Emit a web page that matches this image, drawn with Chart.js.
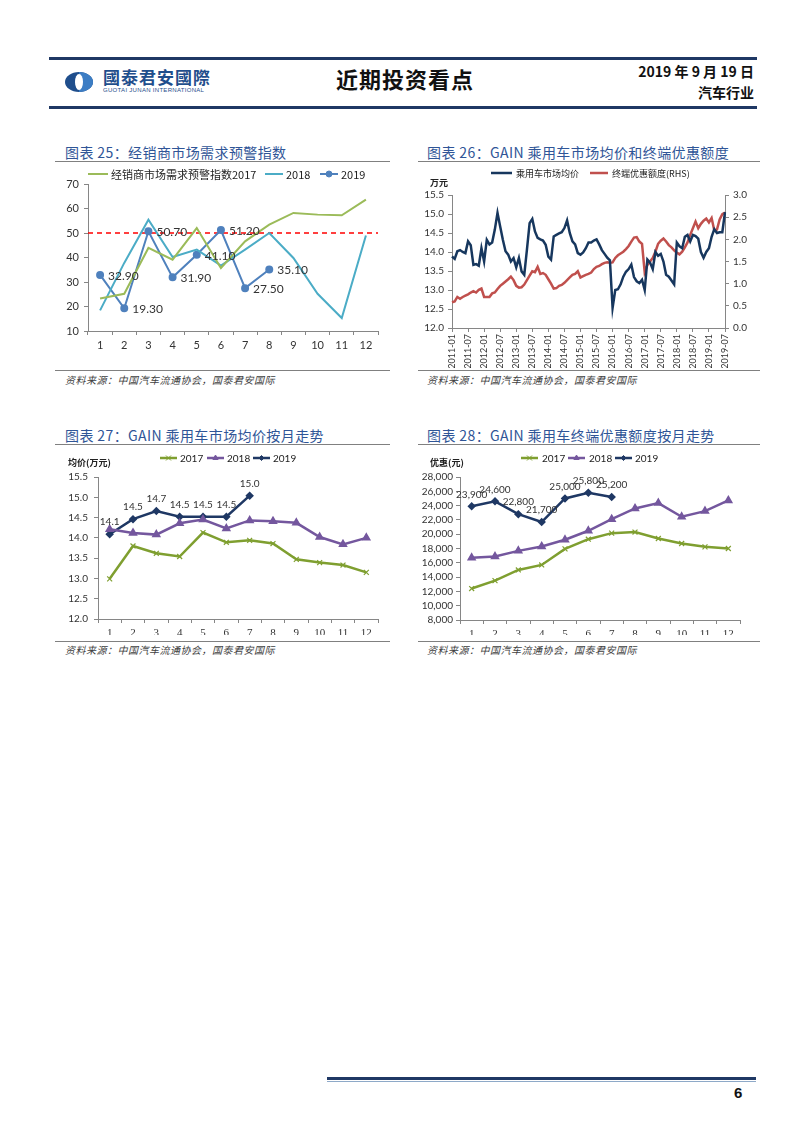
<!DOCTYPE html>
<html>
<head>
<meta charset="utf-8">
<script src="https://cdn.jsdelivr.net/npm/chart.js@4.4.0/dist/chart.umd.min.js"></script>
<style>
body{margin:0;background:#fff;width:802px;height:1133px;position:relative;overflow:hidden;font-family:"Noto Sans CJK SC",sans-serif}
.bar{position:absolute;height:3px;background:#1F3864}
.ttl{position:absolute;font-size:14px;color:#2F5597;letter-spacing:0.4px;white-space:nowrap;line-height:1;font-weight:400}
.rule{position:absolute;height:1px;background:#808080}
.src{position:absolute;font-size:10px;font-style:italic;color:#404040;white-space:nowrap;line-height:1;letter-spacing:0.5px}
.unit{position:absolute;font-size:9px;font-weight:bold;color:#222;white-space:nowrap;line-height:1}
canvas{position:absolute}
</style>
</head>
<body>

<!-- header -->
<div class="bar" style="left:49px;top:57px;width:708px"></div>
<svg style="position:absolute;left:64px;top:71px" width="32" height="22">
  <ellipse cx="15" cy="11" rx="14" ry="10" fill="#1F4E8C"/>
  <path d="M15 1 A14 10 0 0 1 15 21 Z" fill="#3C7DC4"/>
  <ellipse cx="15" cy="11" rx="4" ry="8" fill="#fff"/>
</svg>
<div style="position:absolute;left:103px;top:68px;font-size:17px;font-weight:bold;color:#1F4E8C;letter-spacing:1px;line-height:1">國泰君安國際</div>
<div style="position:absolute;left:103px;top:87px;font-size:6px;color:#1F4E8C;font-family:'Liberation Sans';line-height:1;letter-spacing:0.3px">GUOTAI JUNAN INTERNATIONAL</div>
<div style="position:absolute;left:336px;top:67px;font-size:22px;font-weight:bold;color:#111;letter-spacing:1px;line-height:1">近期投资看点</div>
<div style="position:absolute;right:48px;top:64px;font-size:14px;font-weight:bold;color:#111;line-height:1">2019 年 9 月 19 日</div>
<div style="position:absolute;right:48px;top:85px;font-size:14px;font-weight:bold;color:#111;line-height:1">汽车行业</div>
<div class="bar" style="left:49px;top:106px;width:708px"></div>

<!-- chart titles -->
<div class="ttl" style="left:65px;top:145px">图表 25：经销商市场需求预警指数</div>
<div class="rule" style="left:55px;top:161px;width:335px"></div>
<div class="ttl" style="left:427px;top:145px">图表 26：GAIN 乘用车市场均价和终端优惠额度</div>
<div class="rule" style="left:418px;top:161px;width:342px"></div>

<canvas id="c25" width="335" height="195" style="left:55px;top:163px"></canvas>
<canvas id="c26" width="345" height="205" style="left:418px;top:163px"></canvas>
<div class="unit" style="left:430px;top:178px">万元</div>

<div class="rule" style="left:55px;top:370px;width:335px"></div>
<div class="src" style="left:65px;top:375px">资料来源：中国汽车流通协会，国泰君安国际</div>
<div class="rule" style="left:418px;top:370px;width:342px"></div>
<div class="src" style="left:427px;top:375px">资料来源：中国汽车流通协会，国泰君安国际</div>

<div class="ttl" style="left:65px;top:428px">图表 27：GAIN 乘用车市场均价按月走势</div>
<div class="rule" style="left:55px;top:444px;width:335px"></div>
<div class="ttl" style="left:427px;top:428px">图表 28：GAIN 乘用车终端优惠额度按月走势</div>
<div class="rule" style="left:418px;top:444px;width:342px"></div>

<canvas id="c27" width="335" height="188" style="left:55px;top:447px"></canvas>
<div class="unit" style="left:68px;top:458px">均价(万元)</div>
<canvas id="c28" width="345" height="188" style="left:418px;top:447px"></canvas>
<div class="unit" style="left:430px;top:458px">优惠(元)</div>

<div class="rule" style="left:55px;top:641px;width:335px"></div>
<div class="src" style="left:65px;top:645px">资料来源：中国汽车流通协会，国泰君安国际</div>
<div class="rule" style="left:418px;top:641px;width:342px"></div>
<div class="src" style="left:427px;top:645px">资料来源：中国汽车流通协会，国泰君安国际</div>

<!-- footer -->
<div class="bar" style="left:327px;top:1077px;width:429px"></div>
<div style="position:absolute;left:327px;top:1081px;width:429px;height:1px;background:#8EA9C8"></div>
<div style="position:absolute;left:734px;top:1085px;font-size:15px;font-weight:bold;color:#111;font-family:'Liberation Sans';line-height:1">6</div>

<script>
// ---- data ----
var monthTicks = ['1', '2', '3', '4', '5', '6', '7', '8', '9', '10', '11', '12'];

// chart 25
var dealer2017 = [23.3, 25.2, 43.9, 39.1, 52.0, 35.7, 46.6, 53.4, 58.2, 57.5, 57.2, 63.6];
var dealer2018 = [18.4, 37.8, 55.4, 40.2, 43.2, 36.7, 43.2, 50.0, 39.8, 25.2, 15.3, 49.0];
var dealer2019 = [32.9, 19.3, 50.7, 31.9, 41.1, 51.2, 27.5, 35.1];
var alertLevel = 50;

// chart 26 (monthly, 2011-01 .. 2019-07)
var firstYear = 2011;
var avgPrice = [
    13.88, 13.82, 14.02, 14.05, 14.00, 13.97, 14.28, 14.18, 13.66, 13.68, 13.64, 14.10,
    13.75, 14.32, 14.20, 14.25, 14.59, 15.03, 14.67, 14.32, 14.02, 13.93, 13.75, 13.84,
    13.60, 13.84, 13.49, 13.40, 14.06, 14.76, 14.87, 14.54, 14.37, 14.33, 14.30, 14.19,
    13.88, 13.80, 14.41, 14.45, 14.49, 14.52, 14.63, 14.83, 14.50, 14.28, 14.20, 13.97,
    13.93, 13.99, 14.10, 14.25, 14.25, 14.30, 14.33, 14.20, 14.05, 13.95, 13.85, 13.78,
    12.53, 13.00, 13.02, 13.15, 13.35, 13.48, 13.55, 13.67, 13.34, 13.23, 13.18, 13.27,
    13.00, 13.80, 13.72, 13.55, 14.00, 13.90, 13.95, 13.75, 13.40, 13.35, 13.25, 13.15,
    14.25, 14.15, 14.10, 14.40, 14.45, 14.28, 14.45, 14.42, 14.35, 14.00, 13.85, 14.00,
    14.10, 14.40, 14.60, 14.50, 14.52, 14.52, 15.05
];
var discountRhs = [
    0.58, 0.60, 0.70, 0.66, 0.70, 0.73, 0.76, 0.80, 0.83, 0.80, 0.86, 0.89,
    0.70, 0.70, 0.70, 0.78, 0.80, 0.88, 0.95, 1.00, 1.05, 1.10, 1.16, 1.08,
    0.95, 0.91, 0.92, 0.98, 1.08, 1.18, 1.28, 1.26, 1.38, 1.22, 1.24, 1.20,
    1.10, 1.00, 0.89, 0.90, 0.95, 0.97, 1.02, 1.08, 1.14, 1.20, 1.22, 1.28,
    1.14, 1.17, 1.20, 1.22, 1.25, 1.33, 1.38, 1.40, 1.44, 1.47, 1.48, 1.47,
    1.48, 1.58, 1.64, 1.68, 1.72, 1.78, 1.85, 1.95, 2.04, 2.05, 1.95, 1.90,
    1.26, 1.42, 1.50, 1.58, 1.72, 1.90, 1.97, 2.02, 1.95, 1.87, 1.82, 1.75,
    1.70, 1.66, 1.72, 1.82, 1.93, 2.10, 2.25, 2.40, 2.25, 2.35, 2.42, 2.47,
    2.38, 2.48, 2.20, 2.22, 2.45, 2.57, 2.60
];

// chart 27
var price2017 = [12.99, 13.80, 13.62, 13.54, 14.13, 13.89, 13.94, 13.86, 13.47, 13.39, 13.33, 13.15];
var price2018 = [14.21, 14.12, 14.08, 14.36, 14.45, 14.23, 14.43, 14.41, 14.37, 14.02, 13.84, 14.00];
var price2019 = [14.09, 14.46, 14.66, 14.52, 14.52, 14.52, 15.04];

// chart 28
var disc2017 = [12400, 13500, 15000, 15700, 17950, 19300, 20150, 20300, 19400, 18700, 18230, 18000];
var disc2018 = [16700, 16880, 17670, 18280, 19220, 20480, 22100, 23600, 24350, 22440, 23230, 24730];
var disc2019 = [23900, 24600, 22800, 21700, 25000, 25800, 25200];

var ymLabels = [];
for (var i = 0; i < avgPrice.length; i++) {
    ymLabels.push((firstYear + Math.floor(i / 12)) + '-' + String(i % 12 + 1).padStart(2, '0'));
}

// ---- plugins ----
var legendLines = {
    id: 'legendLines',
    afterDraw: function (chart, args, o) {
        if (!o.items) return;
        var ctx = chart.ctx;
        ctx.save();
        o.items.forEach(function (it) {
            var ds = chart.data.datasets[it.ds];
            ctx.strokeStyle = ds.borderColor;
            ctx.lineWidth = ds.borderWidth;
            ctx.beginPath();
            ctx.moveTo(it.x, o.y);
            ctx.lineTo(it.x + it.w, o.y);
            ctx.stroke();
            if (it.marker) {
                ctx.fillStyle = ds.borderColor;
                ctx.lineWidth = 1;
                Chart.helpers.drawPoint(ctx, {pointStyle: ds.pointStyle, radius: ds.pointRadius, borderWidth: ds.pointBorderWidth || 1, rotation: 0}, it.x + it.w / 2, o.y);
            }
            ctx.fillStyle = '#222';
            ctx.font = o.font;
            ctx.textAlign = 'left';
            ctx.textBaseline = 'middle';
            ctx.fillText(it.text || ds.label, it.tx, o.y + 1);
        });
        ctx.restore();
    }
};

var valueLabels = {
    id: 'valueLabels',
    afterDatasetsDraw: function (chart, args, o) {
        if (!o.texts) return;
        var ctx = chart.ctx;
        var meta = chart.getDatasetMeta(o.ds);
        ctx.save();
        ctx.font = o.font;
        ctx.fillStyle = '#333';
        ctx.textAlign = o.align;
        ctx.textBaseline = 'middle';
        meta.data.forEach(function (p, i) {
            if (o.texts[i] != null) ctx.fillText(o.texts[i], p.x + o.dx, p.y + o.dy);
        });
        ctx.restore();
    }
};

var refLine = {
    id: 'refLine',
    beforeDatasetsDraw: function (chart, args, o) {
        if (o.value == null) return;
        var a = chart.chartArea, ctx = chart.ctx;
        var y = chart.scales.y.getPixelForValue(o.value);
        ctx.save();
        ctx.strokeStyle = '#FF0000';
        ctx.lineWidth = 1.5;
        ctx.setLineDash([5, 4]);
        ctx.beginPath();
        ctx.moveTo(a.left, y);
        ctx.lineTo(a.right, y);
        ctx.stroke();
        ctx.restore();
    }
};

Chart.register(legendLines, valueLabels, refLine);

var numFont = 'Lato, "Liberation Sans", sans-serif';
var serifFont = '"Liberation Serif", serif';
var cjkFont = '"Noto Sans CJK SC", sans-serif';

function axisBase(size, w, h) {
    var ax = {
        border: {color: '#868686'},
        grid: {drawOnChartArea: false, drawTicks: true, tickLength: 4, color: '#868686'},
        ticks: {font: {family: numFont, size: size}, color: '#333', padding: 4}
    };
    if (w != null) ax.afterFit = function (s) { s.width = w; };
    if (h != null) ax.afterFit = function (s) { s.height = h; };
    return ax;
}

function baseOptions(pad) {
    return {
        responsive: false,
        animation: false,
        layout: {padding: pad},
        elements: {line: {tension: 0}},
        plugins: {legend: {display: false}, tooltip: {enabled: false}}
    };
}

// ---- chart 25 ----
var x25 = axisBase(11, null, 27);
x25.offset = true;
x25.grid.offset = true;
x25.ticks.maxRotation = 0;
var y25 = axisBase(11, 33, null);
y25.min = 10; y25.max = 70; y25.ticks.stepSize = 10; y25.ticks.padding = 5;
var o25 = baseOptions({top: 21, right: 12, left: 0, bottom: 0});
o25.scales = {x: x25, y: y25};
o25.plugins.legendLines = {
    y: 11, font: '11px ' + cjkFont,
    items: [
        {ds: 0, x: 33, w: 20, tx: 56},
        {ds: 1, x: 210, w: 18, tx: 231},
        {ds: 2, x: 265, w: 18, tx: 286, marker: true}
    ]
};
o25.plugins.valueLabels = {
    ds: 2, dx: 8, dy: 1, align: 'left', font: '12px ' + numFont,
    texts: dealer2019.map(function (v) { return v.toFixed(2); })
};
o25.plugins.refLine = {value: alertLevel};

new Chart(document.getElementById('c25'), {
    type: 'line',
    data: {
        labels: monthTicks,
        datasets: [
            {label: '经销商市场需求预警指数2017', data: dealer2017, borderColor: '#9BBB59', borderWidth: 2, pointRadius: 0},
            {label: '2018', data: dealer2018, borderColor: '#4BACC6', borderWidth: 2, pointRadius: 0},
            {label: '2019', data: dealer2019, borderColor: '#4F81BD', backgroundColor: '#4F81BD', borderWidth: 2,
             pointStyle: 'circle', pointRadius: 3, pointBackgroundColor: '#4F81BD', pointBorderColor: '#4F81BD'}
        ]
    },
    options: o25
});

// ---- chart 26 ----
var x26 = axisBase(9, null, 40);
x26.offset = false;
x26.ticks.autoSkip = false;
x26.ticks.minRotation = 90;
x26.ticks.maxRotation = 90;
x26.ticks.padding = 2;
x26.ticks.callback = function (v, i) { return i % 6 === 0 ? ymLabels[i] : null; };
var y26 = axisBase(10, 34, null);
y26.min = 12; y26.max = 15.5; y26.ticks.stepSize = 0.5;
y26.ticks.callback = function (v) { return v.toFixed(1); };
var y126 = axisBase(10, 38, null);
y126.position = 'right';
y126.min = 0; y126.max = 3; y126.ticks.stepSize = 0.5;
y126.ticks.callback = function (v) { return v.toFixed(1); };
var o26 = baseOptions({top: 32, right: 0, left: 0, bottom: 0});
o26.scales = {x: x26, y: y26, y1: y126};
o26.plugins.legendLines = {
    y: 10, font: '9px ' + cjkFont,
    items: [
        {ds: 0, x: 73, w: 21, tx: 98},
        {ds: 1, x: 172, w: 18, tx: 194}
    ]
};

new Chart(document.getElementById('c26'), {
    type: 'line',
    data: {
        labels: ymLabels,
        datasets: [
            {label: '乘用车市场均价', data: avgPrice, borderColor: '#17375E', borderWidth: 2.5, pointRadius: 0, yAxisID: 'y'},
            {label: '终端优惠额度(RHS)', data: discountRhs, borderColor: '#C0504D', borderWidth: 2.5, pointRadius: 0, yAxisID: 'y1'}
        ]
    },
    options: o26
});

// ---- chart 27 ----
var x27 = axisBase(11, null, 16);
x27.offset = true;
x27.grid.offset = true;
x27.ticks.maxRotation = 0;
x27.ticks.font.family = serifFont;
var y27 = axisBase(10, 43, null);
y27.min = 12; y27.max = 15.5; y27.ticks.stepSize = 0.5; y27.ticks.padding = 6;
y27.ticks.autoSkip = false;
y27.ticks.callback = function (v) { return v.toFixed(1); };
var o27 = baseOptions({top: 30, right: 12, left: 0, bottom: 0});
o27.scales = {x: x27, y: y27};
o27.plugins.legendLines = {
    y: 11, font: '10px ' + numFont,
    items: [
        {ds: 0, x: 105, w: 17, tx: 125, marker: true},
        {ds: 1, x: 152, w: 17, tx: 172, marker: true},
        {ds: 2, x: 198, w: 17, tx: 218, marker: true}
    ]
};
o27.plugins.valueLabels = {
    ds: 2, dx: 0, dy: -12, align: 'center', font: '10px ' + numFont,
    texts: price2019.map(function (v) { return v.toFixed(1); })
};

new Chart(document.getElementById('c27'), {
    type: 'line',
    data: {
        labels: monthTicks,
        datasets: [
            {label: '2017', data: price2017, borderColor: '#7F9F30', borderWidth: 2.5, pointStyle: 'crossRot', pointRadius: 3.5, pointBorderWidth: 1.2, pointBorderColor: '#7F9F30'},
            {label: '2018', data: price2018, borderColor: '#74579E', backgroundColor: '#74579E', borderWidth: 2.5, pointStyle: 'triangle', pointRadius: 3, pointBackgroundColor: '#74579E', pointBorderColor: '#74579E'},
            {label: '2019', data: price2019, borderColor: '#1F3864', backgroundColor: '#1F3864', borderWidth: 2.5, pointStyle: 'rectRot', pointRadius: 2.5, pointBackgroundColor: '#1F3864', pointBorderColor: '#1F3864'}
        ]
    },
    options: o27
});

// ---- chart 28 ----
var x28 = axisBase(11, null, 15);
x28.offset = true;
x28.grid.offset = true;
x28.ticks.maxRotation = 0;
x28.ticks.font.family = serifFont;
var y28 = axisBase(10, 42, null);
y28.min = 8000; y28.max = 28000; y28.ticks.stepSize = 2000; y28.ticks.padding = 3;
y28.ticks.autoSkip = false;
y28.ticks.callback = function (v) { return v.toLocaleString('en-US'); };
var o28 = baseOptions({top: 30, right: 23, left: 0, bottom: 0});
o28.scales = {x: x28, y: y28};
o28.plugins.legendLines = {
    y: 11, font: '10px ' + numFont,
    items: [
        {ds: 0, x: 103, w: 17, tx: 124, marker: true},
        {ds: 1, x: 150, w: 17, tx: 171, marker: true},
        {ds: 2, x: 197, w: 17, tx: 217, marker: true}
    ]
};
o28.plugins.valueLabels = {
    ds: 2, dx: 0, dy: -12, align: 'center', font: '10px ' + numFont,
    texts: disc2019.map(function (v) { return v.toLocaleString('en-US'); })
};

new Chart(document.getElementById('c28'), {
    type: 'line',
    data: {
        labels: monthTicks,
        datasets: [
            {label: '2017', data: disc2017, borderColor: '#7F9F30', borderWidth: 2.5, pointStyle: 'crossRot', pointRadius: 3.5, pointBorderWidth: 1.2, pointBorderColor: '#7F9F30'},
            {label: '2018', data: disc2018, borderColor: '#74579E', backgroundColor: '#74579E', borderWidth: 2.5, pointStyle: 'triangle', pointRadius: 3, pointBackgroundColor: '#74579E', pointBorderColor: '#74579E'},
            {label: '2019', data: disc2019, borderColor: '#1F3864', backgroundColor: '#1F3864', borderWidth: 2.5, pointStyle: 'rectRot', pointRadius: 2.5, pointBackgroundColor: '#1F3864', pointBorderColor: '#1F3864'}
        ]
    },
    options: o28
});
</script>
</body>
</html>
